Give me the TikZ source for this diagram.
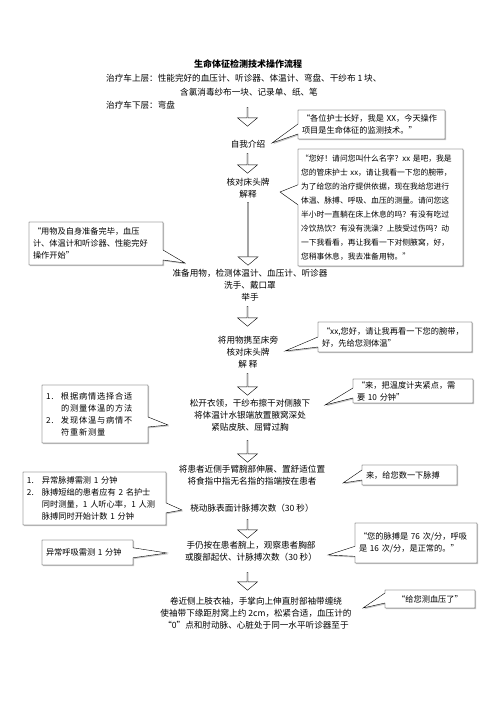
\documentclass[tikz,border=0pt]{standalone}
\usepackage{fontspec}
\setmainfont{Noto Sans CJK SC}
\usetikzlibrary{shapes.arrows,shapes.callouts,shadows}

\begin{document}
\begin{tikzpicture}[
      x = 1pt, y = -1pt,
      every node/.style = {inner sep = 0pt, font = \fontsize{8.6}{12}\selectfont},
      steptext/.style = {align = center},
      downarr/.style = {draw, single arrow, shape border rotate = 270, minimum width = 20pt,
            single arrow head extend = 4pt, single arrow tip angle = 100},
      bubble/.style = {draw, rectangle callout, fill = white, align = left,
            inner xsep = 4pt, inner ysep = 2pt, callout pointer width = 10pt,
            drop shadow = {opacity = 0.45, shadow xshift = 1.2pt, shadow yshift = -1.2pt},
            font = \fontsize{8.2}{12}\selectfont}
      ]
      \useasboundingbox (0,0) rectangle (496,702);

      % heading and trolley contents
      \node[font = \fontsize{9}{12}\selectfont\bfseries] (title) at (248,64) {生命体征检测技术操作流程};
      \node[anchor = west] (top1) at (106,78) {治疗车上层：性能完好的血压计、听诊器、体温计、弯盘、干纱布 1 块、};
      \node[anchor = west] (top2) at (180,92) {含氯消毒纱布一块、记录单、纸、笔};
      \node[anchor = west] (top3) at (106,105) {治疗车下层：弯盘};

      % steps
      \node[downarr, minimum height = 19pt] (a1) at (247.5,116.5) {};
      \node[steptext] (s1) at (248,144) {自我介绍};
      \node[downarr, minimum height = 20pt] (a2) at (247.5,163) {};
      \node[steptext] (s2) at (248,188.5) {核对床头牌\\解释};
      \node[downarr, minimum height = 63pt] (a3) at (248,233.5) {};
      \node[steptext] (s3) at (250,285) {准备用物，检测体温计、血压计、听诊器\\洗手、戴口罩\\举手};
      \node[downarr, minimum height = 20pt] (a4) at (247.5,316) {};
      \node[steptext] (s4) at (248,352) {将用物携至床旁\\核对床头牌\\解\ 释};
      \node[downarr, minimum height = 22pt] (a5) at (247.5,384) {};
      \node[steptext] (s5) at (250,415) {松开衣领，干纱布擦干对侧腋下\\将体温计水银端放置腋窝深处\\紧贴皮肤、屈臂过胸};
      \node[downarr, minimum height = 22pt] (a6) at (247.5,451) {};
      \node[steptext] (s6) at (252,475) {将患者近侧手臂腕部伸展、置舒适位置\\将食指中指无名指的指端按在患者};
      \node[steptext] (s7) at (252,508) {桡动脉表面计脉搏次数（30 秒）};
      \node[downarr, minimum height = 19pt] (a7) at (247.5,528.5) {};
      \node[steptext] (s8) at (251,551.5) {手仍按在患者腕上，观察患者胸部\\或腹部起伏、计脉搏次数（30 秒）};
      \node[downarr, minimum height = 18pt] (a8) at (247.5,581) {};
      \node[steptext] (s9) at (256,613) {卷近侧上肢衣袖，手掌向上伸直肘部袖带缠绕\\使袖带下缘距肘窝上约 2cm，松紧合适，血压计的\\“0”点和肘动脉、心脏处于同一水平听诊器至于};

      % pointer tips
      \coordinate (p1) at (272,143);
      \coordinate (p2) at (280,192);
      \coordinate (p3) at (185,263);
      \coordinate (p4) at (285,351);
      \coordinate (p5) at (168,425);
      \coordinate (p6) at (325,405);
      \coordinate (p7) at (182,510);
      \coordinate (p8) at (343,483);
      \coordinate (p9) at (167,553);
      \coordinate (p10) at (328,555);
      \coordinate (p11) at (363,608);

      % speech bubbles
      \node[bubble, text width = 139pt, minimum height = 29pt, callout absolute pointer = (p1)] (b1) at (371.5,124.5)
            {“各位护士长好，我是 XX，今天操作\\项目是生命体征的监测技术。”};
      \node[bubble, inner xsep = 3pt, text width = 159pt, minimum height = 117pt, callout pointer width = 20pt,
            font = \fontsize{7.8}{13.9}\selectfont, callout absolute pointer = (p2)] (b2) at (380.5,207.5)
            {“您好！请问您叫什么名字？xx 是吧，我是\\您的管床护士 xx，请让我看一下您的腕带，\\为了给您的治疗提供依据，现在我给您进行\\体温、脉搏、呼吸、血压的测量。请问您这\\半小时一直躺在床上休息的吗？有没有吃过\\冷饮热饮？有没有洗澡？上肢受过伤吗？动\\一下我看看，再让我看一下对侧腋窝，好，\\您稍事休息，我去准备用物。”};
      \node[bubble, text width = 126pt, minimum height = 43pt, callout absolute pointer = (p3)] (b3) at (96,243.5)
            {“用物及自身准备完毕，血压\\计、体温计和听诊器、性能完好\\操作开始”};
      \node[bubble, text width = 146pt, minimum height = 30pt, callout absolute pointer = (p4)] (b4) at (395,337)
            {“xx,您好，请让我再看一下您的腕带，\\好，先给您测体温”};
      \node[bubble, text width = 98pt, minimum height = 58pt, callout absolute pointer = (p5)] (b5) at (95,414)
            {\addfontfeature{LetterSpace=10}\makebox[15pt][l]{1.}根据病情选择合适\\\hspace*{15pt}的测量体温的方法\\\makebox[15pt][l]{2.}发现体温与病情不\\\hspace*{15pt}符重新测量};
      \node[bubble, text width = 112pt, minimum height = 24pt, callout absolute pointer = (p6)] (b6) at (413,391)
            {“来，把温度计夹紧点，需\\要 10 分钟”};
      \node[bubble, text width = 135pt, minimum height = 53pt, callout absolute pointer = (p7)] (b7) at (94.5,498.5)
            {\makebox[15pt][l]{1.}异常脉搏需测 1 分钟\\\makebox[15pt][l]{2.}脉搏短绌的患者应有 2 名护士\\\hspace*{15pt}同时测量，1 人听心率，1 人测\\\hspace*{15pt}脉搏同时开始计数 1 分钟};
      \node[bubble, text width = 87pt, minimum height = 20pt, callout absolute pointer = (p8)] (b8) at (409.5,475)
            {来，给您数一下脉搏};
      \node[bubble, text width = 83pt, minimum height = 25pt, callout absolute pointer = (p9)] (b9) at (87.5,552.5)
            {异常呼吸需测 1 分钟};
      \node[bubble, text width = 114pt, minimum height = 40pt, callout absolute pointer = (p10)] (b10) at (416,543)
            {“您的脉搏是 76 次/分，呼吸\\是 16 次/分，是正常的。”};
      \node[bubble, text width = 82pt, minimum height = 18pt, align = center, callout absolute pointer = (p11)] (b11) at (430,599)
            {“给您测血压了”};
\end{tikzpicture}
\end{document}
